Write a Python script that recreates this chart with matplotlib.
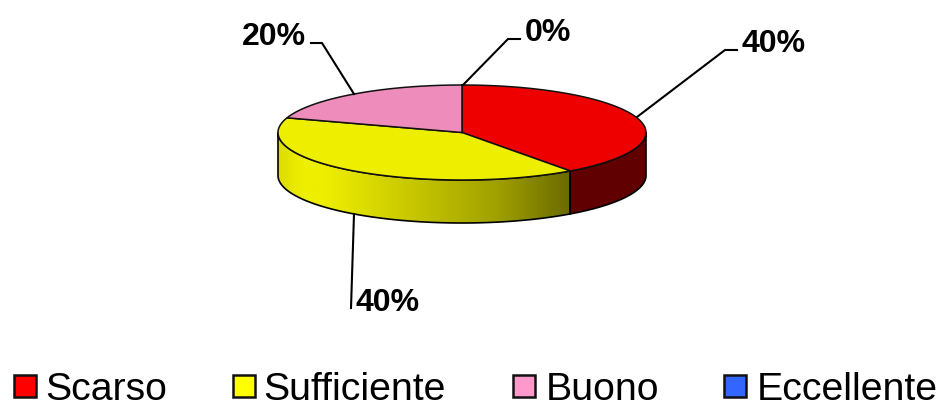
import numpy as np
from matplotlib import pyplot as plt
from matplotlib.patches import Polygon, Rectangle
from matplotlib.colors import LinearSegmentedColormap

plt.rcParams['font.family'] = ['Liberation Sans', 'DejaVu Sans']

categories = ['Scarso', 'Sufficiente', 'Buono', 'Eccellente']
values = [40, 40, 20, 0]
pct_labels = ['40%', '40%', '20%', '0%']
top_colors = ['#EE0000', '#EEEE00', '#EE8CBB', '#3060EE']
legend_colors = ['#FF0000', '#FFFF00', '#FF99CC', '#3366FF']

cx, cy = 462, 133.5
rx, ry = 184, 47.5
depth = 43


def rim(a0, a1, n=120):
    # angle clockwise from top, in degrees
    t = np.radians(np.linspace(a0, a1, n))
    return cx + rx * np.sin(t), cy - ry * np.cos(t)


fig = plt.figure(figsize=(9.43, 4.06), dpi=100)
ax = fig.add_axes([0, 0, 1, 1])
ax.axis('off')

edges = np.cumsum([0] + values) * 3.6

# side wall, only the front half can be seen
side_cmap = LinearSegmentedColormap.from_list('side', [
    (0.0, '#DCDC00'), (0.08, '#EEEE00'), (0.16, '#EEEE00'),
    (0.45, '#C8C800'), (0.75, '#A0A000'), (1.0, '#6A6A00')])
for i in [1, 0]:
    a0, a1 = max(edges[i], 90), min(edges[i + 1], 270)
    x, y = rim(a0, a1)
    pts = np.column_stack([np.r_[x, x[::-1]], np.r_[y, y[::-1] + depth]])
    poly = Polygon(pts, closed=True, facecolor='#600000' if i == 0 else 'none',
                   edgecolor='black', lw=1.2, zorder=2)
    ax.add_patch(poly)
    if i == 1:
        im = ax.imshow(np.linspace(0, 1, 256).reshape(1, -1), cmap=side_cmap,
                       extent=[x.min(), x.max(), 240, 100], aspect='auto', zorder=1.5)
        im.set_clip_path(poly)
ax.set_xlim(0, 943)
ax.set_ylim(406, 0)

# top of the pie
for i in range(3):
    x, y = rim(edges[i], edges[i + 1])
    pts = np.column_stack([np.r_[cx, x], np.r_[cy, y]])
    ax.add_patch(Polygon(pts, closed=True, facecolor=top_colors[i],
                         edgecolor='#111111', lw=1.1, zorder=3))

# leader lines
leaders = [
    ([637, 725, 737], [118, 51, 51]),
    ([354, 351], [215, 309]),
    ([354, 322, 311], [95, 44, 44]),
    ([463, 508, 520], [86, 40, 40]),
]
for lx, ly in leaders:
    ax.plot(lx, ly, color='black', lw=1.5, zorder=4, solid_joinstyle='miter')

label_pos = [(742, 52), (355, 311), (306, 45), (525, 41)]
label_ha = ['left', 'left', 'right', 'left']
for txt, (px, py), ha in zip(pct_labels, label_pos, label_ha):
    ax.text(px, py, txt, fontsize=23, fontweight='bold', ha=ha, va='baseline', color='black')

# legend
box_x = [14, 233, 513, 724]
text_x = [45, 263, 546, 757]
for name, col, bx, tx in zip(categories, legend_colors, box_x, text_x):
    ax.add_patch(Rectangle((bx, 376), 22, 22, facecolor=col, edgecolor='#111111', lw=1.8))
    ax.text(tx, 400, name, fontsize=28.3, ha='left', va='baseline', color='black')

plt.savefig('out.png', dpi=100)
plt.close()
